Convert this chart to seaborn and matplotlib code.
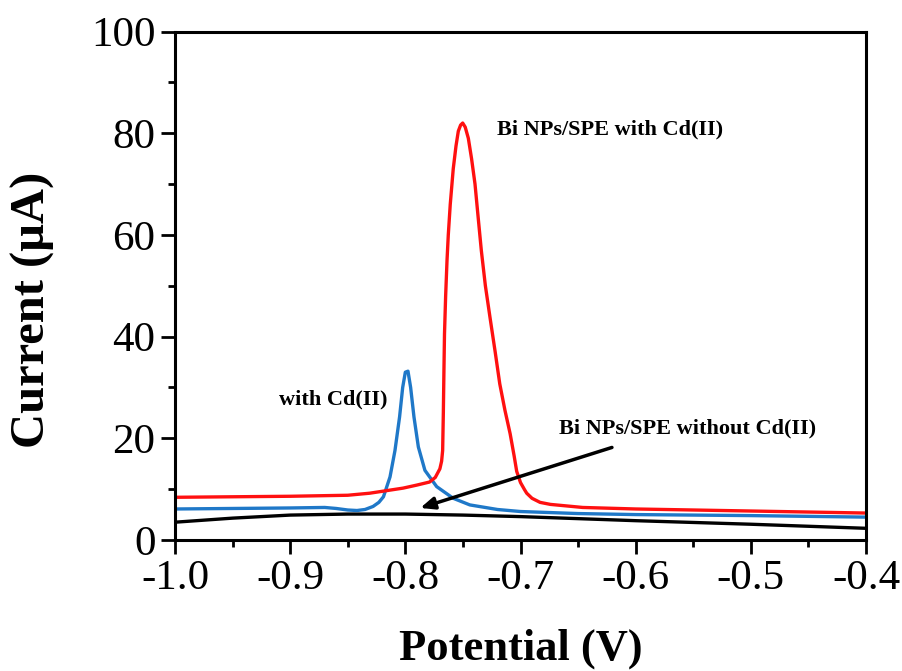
import numpy as np
import pandas as pd
import matplotlib
matplotlib.use("Agg")
import matplotlib.pyplot as plt
from matplotlib.ticker import MultipleLocator
import seaborn as sns

# ---- data ----
red_x = [-1.00, -0.95, -0.90, -0.85, -0.831, -0.802, -0.790, -0.779, -0.774, -0.770,
         -0.7685, -0.7676, -0.7670, -0.7665, -0.766, -0.765, -0.7638, -0.7627, -0.761,
         -0.7584, -0.756, -0.754, -0.752, -0.7502, -0.748, -0.7453, -0.7425, -0.7395,
         -0.737, -0.734, -0.7305, -0.7265, -0.722, -0.718, -0.7135, -0.709, -0.7055,
         -0.7033, -0.700, -0.6965, -0.6946, -0.690, -0.683, -0.674, -0.646, -0.60,
         -0.50, -0.40]
red_y = [8.4, 8.5, 8.6, 8.8, 9.2, 10.2, 10.8, 11.4, 12.3, 14.0,
         15.5, 17.6, 25.0, 33.0, 40.5, 48.0, 55.0, 60.0, 66.0,
         73.0, 77.5, 80.4, 81.6, 82.0, 81.2, 79.0, 75.0, 70.0,
         64.0, 56.9, 50.0, 43.8, 37.0, 30.7, 25.5, 20.9, 16.5,
         13.5, 11.3, 9.9, 9.2, 8.2, 7.4, 7.0, 6.4, 6.1,
         5.7, 5.3]

blue_x = [-1.00, -0.95, -0.90, -0.87, -0.86, -0.85, -0.842, -0.835, -0.828, -0.823,
          -0.819, -0.8133, -0.809, -0.805, -0.8023, -0.800, -0.7977, -0.7954, -0.7925,
          -0.7887, -0.783, -0.7728, -0.7584, -0.744, -0.72, -0.70, -0.65,
          -0.60, -0.50, -0.40]
blue_y = [6.1, 6.2, 6.3, 6.4, 6.2, 5.9, 5.8, 6.0, 6.6, 7.4,
          8.5, 12.4, 17.6, 24.2, 30.0, 33.0, 33.2, 30.0, 24.2,
          18.3, 13.7, 10.5, 8.2, 6.9, 6.0, 5.6, 5.2,
          5.0, 4.8, 4.5]

black_x = [-1.00, -0.95, -0.90, -0.85, -0.80, -0.75, -0.70, -0.65, -0.60, -0.50, -0.40]
black_y = [3.5, 4.3, 4.9, 5.1, 5.1, 4.9, 4.6, 4.2, 3.8, 3.1, 2.3]

x_ticks = [-1.0, -0.9, -0.8, -0.7, -0.6, -0.5, -0.4]
y_ticks = [0, 20, 40, 60, 80, 100]

sns.set_theme(style="white")
plt.rcParams['font.family'] = ['Liberation Serif', 'DejaVu Serif']
plt.rcParams['text.color'] = 'black'
plt.rcParams['axes.labelcolor'] = 'black'
plt.rcParams['xtick.color'] = 'black'
plt.rcParams['ytick.color'] = 'black'

fig = plt.figure(figsize=(9.02, 6.71), dpi=100)
ax = fig.add_axes([175/902, 1-540/671, 691/902, 508.5/671])

lw = 2.4
sns.lineplot(x=black_x, y=black_y, ax=ax, color="black", lw=lw, sort=False, estimator=None)
sns.lineplot(x=blue_x, y=blue_y, ax=ax, color="#1f78c8", lw=lw, sort=False, estimator=None)
sns.lineplot(x=red_x, y=red_y, ax=ax, color="#ff1010", lw=lw, sort=False, estimator=None)
for ln in ax.lines:
    ln.set_solid_joinstyle('round')
    ln.set_solid_capstyle('round')

ax.set_xlim(-1.0, -0.4)
ax.set_ylim(0, 100)
ax.set_xticks(x_ticks)
ax.set_xticklabels([f"{v:.1f}" for v in x_ticks])
ax.set_yticks(y_ticks)
ax.set_yticklabels([str(v) for v in y_ticks])
ax.xaxis.set_minor_locator(MultipleLocator(0.05))
ax.yaxis.set_minor_locator(MultipleLocator(10))
ax.tick_params(which='major', direction='out', length=10, width=2, labelsize=31,
               bottom=True, left=True, top=False, right=False, color='black',
               labelcolor='black', pad=4)
ax.tick_params(which='minor', direction='out', length=5, width=2,
               bottom=True, left=True, top=False, right=False, color='black')
for s in ax.spines.values():
    s.set_visible(True)
    s.set_color('black')
    s.set_linewidth(2.2)

ax.set_xlabel("Potential (V)", fontsize=32, fontweight='bold', labelpad=22, color='black')
ax.set_ylabel("Current (μA)", fontsize=35, fontweight='bold', color='black')
ax.yaxis.set_label_coords(-0.174, 0.452)

ax.text(-0.720, 80.8, "Bi NPs/SPE with Cd(II)", fontsize=16, fontweight='bold',
        ha='left', va='center', color='black')
ax.text(-0.863, 27.6, "with Cd(II)", fontsize=16, fontweight='bold',
        ha='center', va='center', color='black')
ax.text(-0.667, 22.0, "Bi NPs/SPE without Cd(II)", fontsize=16, fontweight='bold',
        ha='left', va='center', color='black')
ax.annotate("", xy=(-0.787, 6.3), xytext=(-0.6206, 18.2),
            arrowprops=dict(arrowstyle="-|>,head_length=0.7,head_width=0.3",
                            color="black", lw=2.5, shrinkA=0, shrinkB=0))

fig.savefig("out.png", dpi=100)
